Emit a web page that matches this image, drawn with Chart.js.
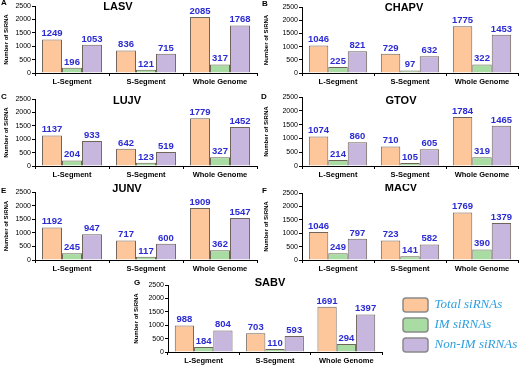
<!DOCTYPE html>
<html>
<head>
<meta charset="utf-8">
<script src="https://cdn.jsdelivr.net/npm/chart.js@4.4.1/dist/chart.umd.min.js"></script>
<style>
  body { margin: 0; background: #fff; }
  #fig { position: relative; width: 520px; height: 366px; overflow: hidden; }
  #fig canvas { position: absolute; }
</style>
</head>
<body>
<div id="fig"></div>
<script>
// === Data ===
const viruses = ['LASV', 'CHAPV', 'LUJV', 'GTOV', 'JUNV', 'MACV', 'SABV'];
const panelLetters = ['A', 'B', 'C', 'D', 'E', 'F', 'G'];
const segments = ['L-Segment', 'S-Segment', 'Whole Genome'];
const seriesNames = ['Total siRNAs', 'IM siRNAs', 'Non-IM siRNAs'];

// one row per virus: [L-Segment, S-Segment, Whole Genome]
const totalSiRNAs = [
    [1249, 836, 2085],
    [1046, 729, 1775],
    [1137, 642, 1779],
    [1074, 710, 1784],
    [1192, 717, 1909],
    [1046, 723, 1769],
    [988, 703, 1691]
];
const imSiRNAs = [
    [196, 121, 317],
    [225, 97, 322],
    [204, 123, 327],
    [214, 105, 319],
    [245, 117, 362],
    [249, 141, 390],
    [184, 110, 294]
];
const nonImSiRNAs = [
    [1053, 715, 1768],
    [821, 632, 1453],
    [933, 519, 1452],
    [860, 605, 1465],
    [947, 600, 1547],
    [797, 582, 1379],
    [804, 593, 1397]
];
const yMax = 2500;
const yMajorStep = 500;
const yMinorStep = 250;

// === Styles ===
const sans = "'Liberation Sans', Arial, sans-serif";
const serif = "'Liberation Serif', 'Times New Roman', serif";
const fills = ['#fdc79b', '#a9dca3', '#c7b7df'];
const edge = '#6f6459';
const labelBlue = '#2b2bd4';

// === Layout (page px): canvas box, plot area, title and letter spots ===
const panelBoxes = [
    { x: 0,   y: 0,   w: 260, h: 92, left: 35,  top: 6,   right: 257, bottom: 73,  titleX: 118, titleY: 7,   letterX: 1,   letterY: 3 },
    { x: 260, y: 0,   w: 260, h: 92, left: 302, top: 7,   right: 518, bottom: 73,  titleX: 404, titleY: 8,   letterX: 262, letterY: 4 },
    { x: 0,   y: 92,  w: 260, h: 92, left: 35,  top: 99,  right: 257, bottom: 166, titleX: 127, titleY: 101, letterX: 1,   letterY: 97 },
    { x: 260, y: 92,  w: 260, h: 92, left: 302, top: 97,  right: 518, bottom: 166, titleX: 401, titleY: 101, letterX: 261, letterY: 97 },
    { x: 0,   y: 184, w: 260, h: 92, left: 35,  top: 192, right: 257, bottom: 260, titleX: 127, titleY: 189, letterX: 1,   letterY: 191 },
    { x: 260, y: 184, w: 260, h: 92, left: 302, top: 193, right: 518, bottom: 260, titleX: 401, titleY: 188, letterX: 262, letterY: 191 },
    { x: 130, y: 276, w: 260, h: 90, left: 168, top: 285, right: 382, bottom: 352, titleX: 270, titleY: 283, letterX: 134, letterY: 283 }
];
const legendBox = { x: 397, y: 292, w: 123, h: 130 };

// === Plugins ===
const valueLabels = {
    id: 'valueLabels',
    afterDatasetsDraw(chart) {
        const ctx = chart.ctx;
        ctx.save();
        ctx.font = 'bold 9.5px ' + sans;
        ctx.fillStyle = labelBlue;
        ctx.textAlign = 'center';
        ctx.textBaseline = 'bottom';
        chart.data.datasets.forEach((ds, i) => {
            chart.getDatasetMeta(i).data.forEach((bar, j) => {
                ctx.fillText(ds.data[j], bar.x, bar.y - 1);
            });
        });
        ctx.restore();
    }
};

const panelText = {
    id: 'panelText',
    afterDraw(chart, args, opts) {
        const ctx = chart.ctx;
        ctx.save();
        ctx.fillStyle = '#000';
        ctx.textBaseline = 'middle';
        ctx.textAlign = 'left';
        ctx.font = 'bold 8px ' + sans;
        ctx.fillText(opts.letter, opts.letterX, opts.letterY);
        ctx.textAlign = 'center';
        ctx.font = 'bold 11px ' + sans;
        ctx.fillText(opts.title, opts.titleX, opts.titleY);
        ctx.restore();
    }
};

const fig = document.getElementById('fig');

function addCanvas(box) {
    const canvas = document.createElement('canvas');
    canvas.style.left = box.x + 'px';
    canvas.style.top = box.y + 'px';
    canvas.style.width = box.w + 'px';
    canvas.style.height = box.h + 'px';
    canvas.width = box.w;
    canvas.height = box.h;
    fig.appendChild(canvas);
    return canvas;
}

// === Build panels ===
viruses.forEach((name, k) => {
    const box = panelBoxes[k];
    const canvas = addCanvas(box);

    const rows = [totalSiRNAs[k], imSiRNAs[k], nonImSiRNAs[k]];
    const datasets = rows.map((vals, i) => ({
        label: seriesNames[i],
        data: vals,
        backgroundColor: fills[i],
        borderColor: edge,
        borderWidth: 1,
        categoryPercentage: 0.81,
        barPercentage: 1
    }));

    new Chart(canvas, {
        type: 'bar',
        data: { labels: segments, datasets },
        options: {
            responsive: false,
            animation: false,
            layout: {
                padding: { top: box.top - box.y, right: box.x + box.w - box.right, left: 0, bottom: 0 }
            },
            scales: {
                x: {
                    afterFit: (s) => { s.height = box.y + box.h - box.bottom; },
                    grid: { drawOnChartArea: false, offset: true, tickLength: 3, color: '#000' },
                    border: { color: '#000', width: 1 },
                    ticks: { color: '#000', padding: 1, font: { family: sans, size: 7.5, weight: 'bold' } }
                },
                y: {
                    min: 0,
                    max: yMax,
                    afterFit: (s) => { s.width = box.left - box.x; },
                    grid: { drawOnChartArea: false, tickLength: 3, color: '#000' },
                    border: { color: '#000', width: 1 },
                    ticks: {
                        stepSize: yMinorStep,
                        color: '#000',
                        padding: 1,
                        font: { family: sans, size: 7 },
                        callback: (v) => (v % yMajorStep === 0 ? v : '')
                    },
                    title: {
                        display: true,
                        text: 'Number of SiRNA',
                        color: '#000',
                        padding: 3,
                        font: { family: sans, size: 6, weight: 'bold' }
                    }
                }
            },
            plugins: {
                legend: { display: false },
                tooltip: { enabled: false },
                panelText: {
                    letter: panelLetters[k],
                    title: name,
                    letterX: box.letterX - box.x,
                    letterY: box.letterY - box.y,
                    titleX: box.titleX - box.x,
                    titleY: box.titleY - box.y
                }
            }
        },
        plugins: [valueLabels, panelText]
    });
});

// === Shared legend (own canvas, next to panel G) ===
new Chart(addCanvas(legendBox), {
    type: 'bar',
    data: {
        labels: [],
        datasets: seriesNames.map((label, i) => ({
            label,
            data: [],
            backgroundColor: fills[i],
            borderColor: '#8a8a8a',
            borderWidth: 1.5
        }))
    },
    options: {
        responsive: false,
        animation: false,
        layout: { padding: 0 },
        scales: { x: { display: false }, y: { display: false } },
        plugins: {
            tooltip: { enabled: false },
            legend: {
                position: 'top',
                align: 'start',
                labels: {
                    boxWidth: 25,
                    boxHeight: 14,
                    padding: 6,
                    useBorderRadius: true,
                    borderRadius: 3,
                    color: '#2e9fe0',
                    font: { family: serif, size: 13, style: 'italic' }
                }
            }
        }
    }
});
</script>
</body>
</html>
